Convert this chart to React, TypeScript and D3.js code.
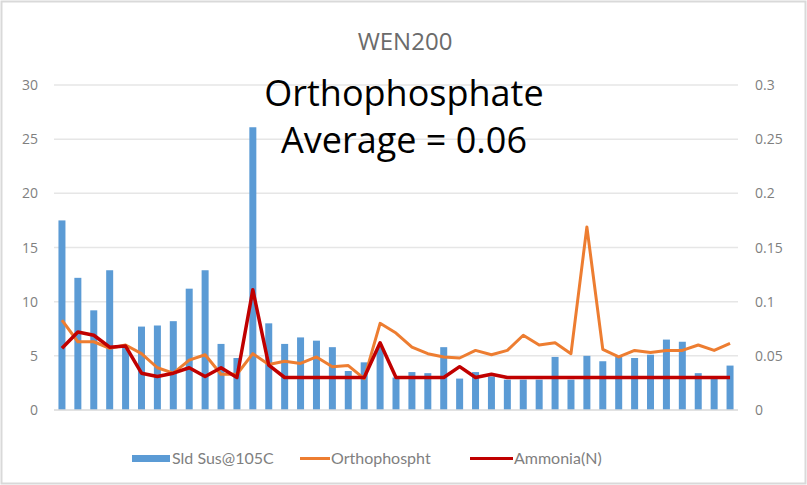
import React from "react";
import * as d3 from "d3";

const solids = [17.5, 12.2, 9.2, 12.9, 6.0, 7.7, 7.8, 8.2, 11.2, 12.9, 6.1, 4.8, 26.1, 8.0, 6.1, 6.7, 6.4, 5.8, 3.6, 4.4, 5.8, 3.0, 3.5, 3.4, 5.8, 2.9, 3.5, 3.1, 2.8, 2.8, 2.8, 4.9, 2.8, 5.0, 4.5, 4.9, 4.8, 5.1, 6.5, 6.3, 3.4, 3.0, 4.1];
const ortho = [0.083, 0.063, 0.063, 0.057, 0.06, 0.052, 0.039, 0.034, 0.046, 0.051, 0.033, 0.033, 0.052, 0.042, 0.045, 0.043, 0.049, 0.04, 0.041, 0.029, 0.08, 0.071, 0.058, 0.052, 0.049, 0.048, 0.055, 0.051, 0.055, 0.069, 0.06, 0.062, 0.052, 0.169, 0.056, 0.049, 0.055, 0.053, 0.055, 0.055, 0.06, 0.055, 0.0615];
const ammonia = [0.057, 0.072, 0.069, 0.058, 0.059, 0.034, 0.031, 0.034, 0.039, 0.031, 0.039, 0.03, 0.111, 0.0415, 0.03, 0.03, 0.03, 0.03, 0.03, 0.03, 0.062, 0.03, 0.03, 0.03, 0.03, 0.04, 0.03, 0.033, 0.03, 0.03, 0.03, 0.03, 0.03, 0.03, 0.03, 0.03, 0.03, 0.03, 0.03, 0.03, 0.03, 0.03, 0.03];
const leftTicks = [0, 5, 10, 15, 20, 25, 30];
const rightTicks = [0, 0.05, 0.1, 0.15, 0.2, 0.25, 0.3];
const title = "WEN200";
const annotation = ["Orthophosphate", "Average = 0.06"];
const seriesNames = ["Sld Sus@105C", "Orthophospht", "Ammonia(N)"];

const W = 807, H = 485;
const plotL = 54, plotR = 738, plotT = 85, plotB = 410;

export default function App() {
  const idx = solids.map((_, i) => i);
  const x = d3.scaleBand<number>().domain(idx).range([plotL, plotR]).paddingInner(0.56).paddingOuter(0.28);
  const yL = d3.scaleLinear().domain([0, 30]).range([plotB, plotT]);
  const yR = d3.scaleLinear().domain([0, 0.3]).range([plotB, plotT]);
  const cx = (i: number) => (x(i) as number) + x.bandwidth() / 2;
  const lineO = d3.line<number>().x((_, i) => cx(i)).y((d) => yR(d));
  const font = "'Open Sans', 'Noto Sans', sans-serif";
  const lfont = "Lato, 'Open Sans', sans-serif";
  return (
    <svg width={W} height={H} style={{ position: "absolute", left: 0, top: 0 }}>
      <rect x={0} y={0} width={W} height={H} fill="#fff" />
      <rect x={1.5} y={1.5} width={W - 3} height={H - 3} fill="none" stroke="#d9d9d9" strokeWidth={2} />
      <text x={405} y={50} textAnchor="middle" fontFamily={font} fontSize={24} fill="#6b6b6b">{title}</text>
      {leftTicks.map((t) => (
        <g key={"g" + t}>
          {t > 0 && <line x1={plotL} x2={plotR} y1={yL(t)} y2={yL(t)} stroke="#e6e6e6" strokeWidth={1.5} />}
          <text x={38} y={yL(t) + 5} textAnchor="end" fontFamily={font} fontSize={14} fill="#7f7f7f">{t}</text>
        </g>
      ))}
      {rightTicks.map((t) => (
        <text key={"r" + t} x={755} y={yR(t) + 5} textAnchor="start" fontFamily={font} fontSize={14} fill="#7f7f7f">{t}</text>
      ))}
      {solids.map((v, i) => (
        <rect key={"b" + i} x={x(i)} y={yL(v)} width={x.bandwidth()} height={plotB - yL(v)} fill="#5b9bd5" />
      ))}
      <line x1={plotL} x2={plotR} y1={plotB} y2={plotB} stroke="#d9d9d9" strokeWidth={1.5} />
      <path d={lineO(ortho) || ""} fill="none" stroke="#ed7d31" strokeWidth={3} strokeLinejoin="round" />
      <path d={lineO(ammonia) || ""} fill="none" stroke="#c00000" strokeWidth={3.5} strokeLinejoin="round" />
      <text x={404} y={106} textAnchor="middle" fontFamily={font} fontSize={36} fill="#000">{annotation[0]}</text>
      <text x={404} y={153} textAnchor="middle" fontFamily={font} fontSize={36} fill="#000">{annotation[1]}</text>
      <g fontFamily={lfont} fontSize={16} fill="#7f7f7f">
        <rect x={132} y={455} width={38} height={7} fill="#5b9bd5" />
        <text x={172} y={464}>{seriesNames[0]}</text>
        <line x1={300} x2={330} y1={458.5} y2={458.5} stroke="#ed7d31" strokeWidth={3} />
        <text x={331} y={464}>{seriesNames[1]}</text>
        <line x1={470} x2={513} y1={458.5} y2={458.5} stroke="#c00000" strokeWidth={3} />
        <text x={514} y={464}>{seriesNames[2]}</text>
      </g>
    </svg>
  );
}
